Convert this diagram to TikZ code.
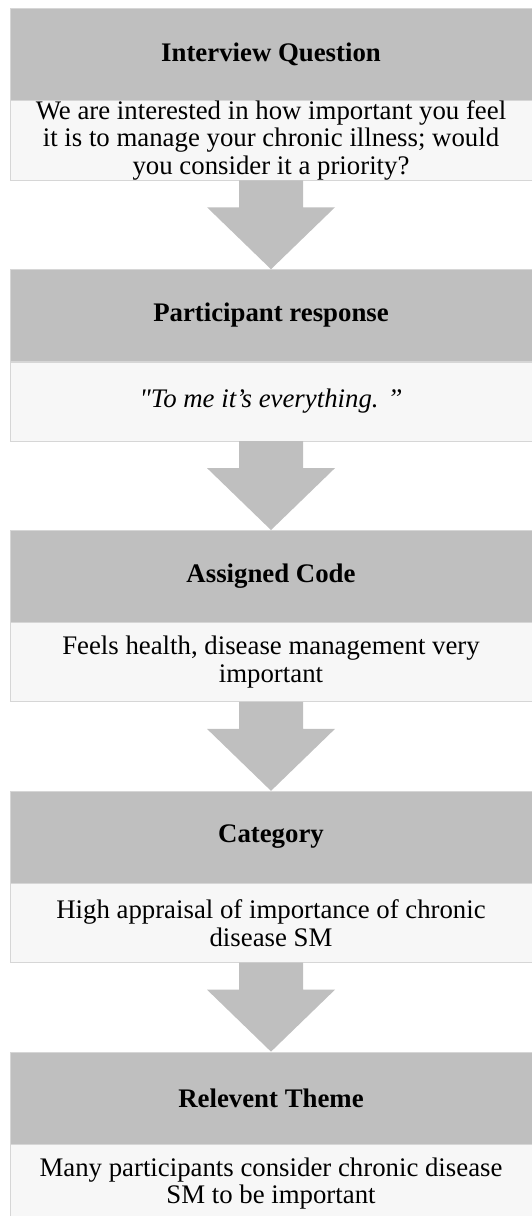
\documentclass[tikz,border=0pt]{standalone}
\usepackage{fontspec}
\setmainfont{Liberation Serif}[Ligatures=TeXOff]
\usepackage{xcolor}
\usepackage{tikz}
\usetikzlibrary{positioning,calc}

\definecolor{hdrgray}{HTML}{BFBFBF}
\definecolor{txtfill}{HTML}{F7F7F7}
\definecolor{edgegray}{HTML}{D6D6D6}

\newcommand{\flowarrow}[2]{%
  \fill[hdrgray] ($(#1.south)+(-32pt,0)$) -- ++(0,-27pt) -- ++(-32pt,0) -- (#2.north)
    -- ($(#1.south)+(64pt,-27pt)$) -- ++(-32pt,0) -- ++(0,27pt) -- cycle;}

\begin{document}
\begin{tikzpicture}[node distance=89pt,
    head/.style={draw=edgegray, fill=hdrgray, minimum width=522pt, minimum height=92pt,
      inner sep=0pt, font=\fontsize{26.8}{27.5}\selectfont\bfseries},
    body/.style={draw=edgegray, fill=txtfill, minimum width=522pt, minimum height=79pt,
      inner sep=0pt, align=center, font=\fontsize{26.8}{27.5}\selectfont}]
        \useasboundingbox (0,0) rectangle (531pt,-1216pt);
        \node[head] (A) at (271pt,-54pt) {Interview Question};
        \node[body] (A2) [below=0pt of A] {We are interested in how important you feel\\
          it is to manage your chronic illness; would\\ you consider it a priority?};
        \node[head] (B) [below=of A2] {Participant response};
        \node[body] (B2) [below=0pt of B] {\itshape "To me it’s everything. ”};
        \node[head] (C) [below=of B2] {Assigned Code};
        \node[body] (C2) [below=0pt of C] {Feels health, disease management very\\ important};
        \node[head] (D) [below=of C2] {Category};
        \node[body] (D2) [below=0pt of D] {High appraisal of importance of chronic\\ disease SM};
        \node[head] (E) [below=of D2] {Relevent Theme};
        \node[body] (E2) [below=0pt of E] {Many participants consider chronic disease\\ SM to be important};
        \flowarrow{A2}{B}
        \flowarrow{B2}{C}
        \flowarrow{C2}{D}
        \flowarrow{D2}{E}
  \end{tikzpicture}
\end{document}
